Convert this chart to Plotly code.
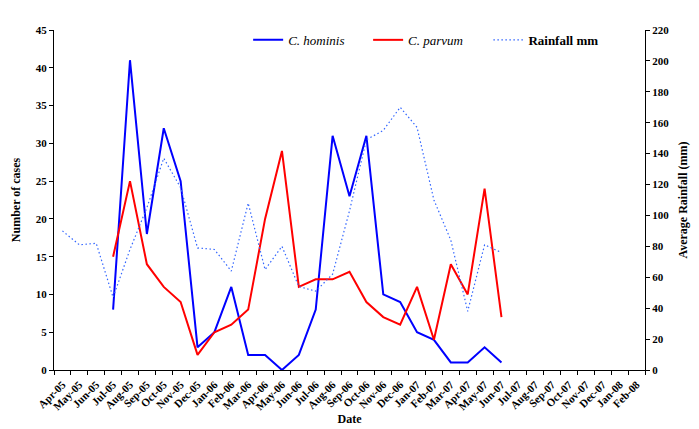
import plotly.graph_objects as go

months = ["Apr-05","May-05","Jun-05","Jul-05","Aug-05","Sep-05","Oct-05","Nov-05","Dec-05",
          "Jan-06","Feb-06","Mar-06","Apr-06","May-06","Jun-06","Jul-06","Aug-06","Sep-06",
          "Oct-06","Nov-06","Dec-06","Jan-07","Feb-07","Mar-07","Apr-07","May-07","Jun-07",
          "Jul-07","Aug-07","Sep-07","Oct-07","Nov-07","Dec-07","Jan-08","Feb-08"]

rain_months = months[0:27]
rainfall_mm = [90, 81, 82, 47, 78, 105, 137, 118, 79, 78, 64, 108, 65, 80, 54, 51, 62, 103,
               149, 155, 170, 157, 110, 84, 38, 81, 76]

case_months = months[3:27]
c_hominis = [8, 41, 18, 32, 25, 3, 5, 11, 2, 2, 0, 2, 8, 31, 23, 31, 10, 9, 5, 4, 1, 1, 3, 1]
c_parvum = [15, 25, 14, 11, 9, 2, 5, 6, 8, 20, 29, 11, 12, 12, 13, 9, 7, 6, 11, 4, 14, 10, 24, 7]

FONT = "Liberation Serif, Times New Roman, serif"
LEG_FONT = dict(family=FONT, size=13, color="#000000")

fig = go.Figure()
fig.add_trace(go.Scatter(x=case_months, y=c_hominis, mode="lines", name="<i>C. hominis</i>",
                         line=dict(color="#0000FF", width=2), legend="legend"))
fig.add_trace(go.Scatter(x=case_months, y=c_parvum, mode="lines", name="<i>C. parvum</i>",
                         line=dict(color="#FF0000", width=2), legend="legend2"))
fig.add_trace(go.Scatter(x=rain_months, y=rainfall_mm, mode="lines", name="<b>Rainfall mm</b>",
                         line=dict(color="#3366FF", width=1.2, dash="1.5px,2.5px"), yaxis="y2",
                         legend="legend3"))

axis_common = dict(showline=True, linecolor="#000000", linewidth=1, showgrid=False,
                   zeroline=False, ticks="outside", ticklen=4, tickcolor="#000000",
                   automargin=False,
                   tickfont=dict(family=FONT, size=11, color="#000000", weight="bold"))

def leg(x):
    return dict(orientation="h", x=x, y=1.015, xanchor="left", yanchor="top",
                font=LEG_FONT, bgcolor="rgba(0,0,0,0)", itemwidth=30)

# page body has an 8px margin, so the figure is offset by 8px
fig.update_layout(
    width=699, height=429,
    margin=dict(l=46, r=62, t=22, b=67, autoexpand=False),
    paper_bgcolor="white", plot_bgcolor="white",
    font=dict(family=FONT, color="#000000"),
    showlegend=True,
    legend=leg(0.3285),
    legend2=leg(0.5315),
    legend3=leg(0.735),
    xaxis=dict(type="category", categoryorder="array", categoryarray=months,
               range=[-0.5, len(months) - 0.5], tickson="boundaries", tickangle=-45,
               ticklabelstandoff=3,
               title=dict(text="<b>Date</b>", font=dict(family=FONT, size=12), standoff=3),
               **{**axis_common, "tickfont": dict(family=FONT, size=11, color="#000000", weight="bold")}),
    yaxis=dict(range=[0, 45], dtick=5,
               title=dict(text="<b>Number of cases</b>", font=dict(family=FONT, size=12), standoff=12),
               **axis_common),
    yaxis2=dict(range=[0, 220], dtick=20, overlaying="y", side="right",
                title=dict(text="<b>Average Rainfall (mm)</b>", font=dict(family=FONT, size=12), standoff=10),
                **axis_common),
)

fig.write_html("out.html")
